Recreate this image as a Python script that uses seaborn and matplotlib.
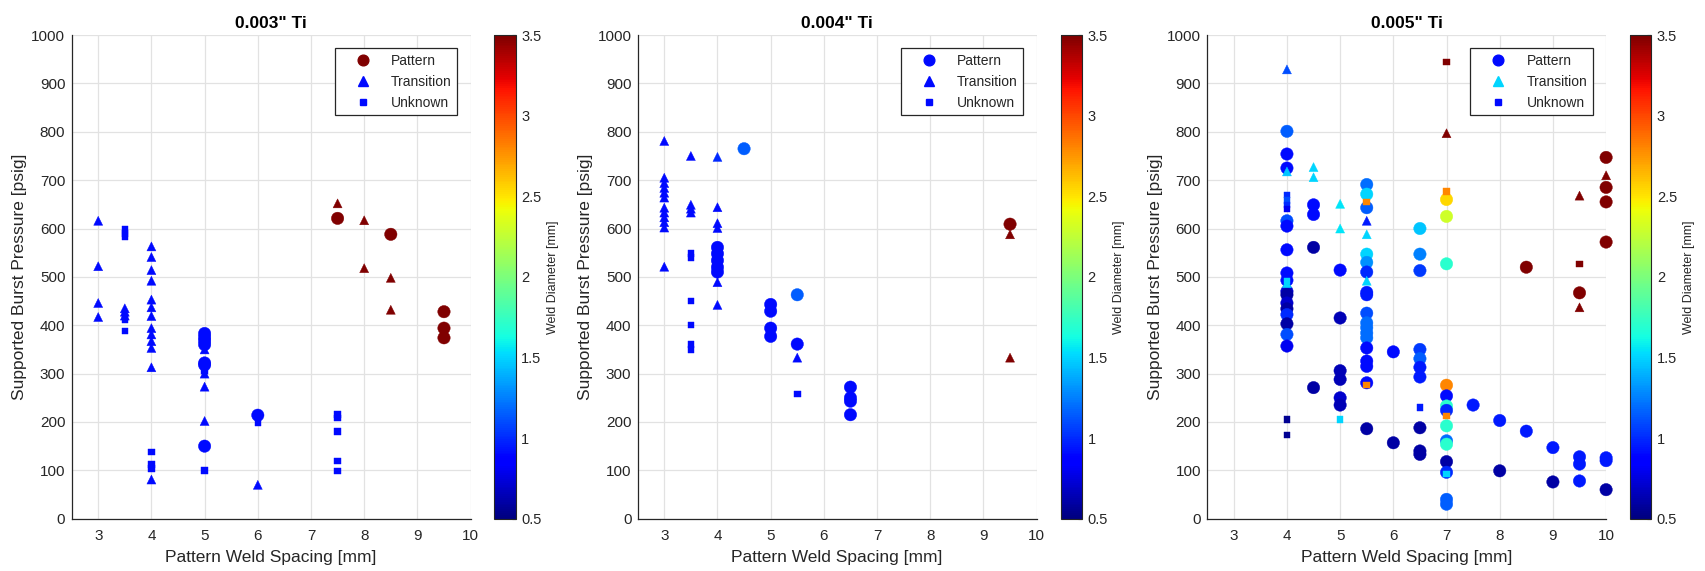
import matplotlib
matplotlib.use("Agg")
import matplotlib.pyplot as plt
import seaborn as sns
import pandas as pd
from matplotlib.lines import Line2D
from matplotlib.colors import Normalize
from matplotlib.cm import ScalarMappable

# ---- data: (spacing mm, burst pressure psig, weld diameter mm) per panel / failure type ----
# 0.003" Ti
t3_pat_x = [5, 5, 5, 5, 5, 5, 5, 6, 7.5, 8.5, 9.5, 9.5, 9.5]
t3_pat_p = [383, 375, 368, 360, 322, 318, 150, 214, 621, 588, 428, 394, 374]
t3_pat_d = [0.9, 0.9, 0.9, 0.9, 0.9, 0.9, 0.9, 0.9, 3.5, 3.5, 3.5, 3.5, 3.5]
t3_tr_x = [3, 3, 3, 3, 3.5, 3.5, 3.5, 4, 4, 4, 4, 4, 4, 4, 4, 4, 4, 4, 4, 4,
           5, 5, 5, 5, 6, 7.5, 8, 8, 8.5, 8.5]
t3_tr_p = [616, 522, 446, 417, 435, 428, 420, 563, 541, 514, 492, 453, 437, 419, 394, 381, 367, 353, 313, 81,
           350, 300, 273, 202, 70, 652, 617, 518, 498, 432]
t3_tr_d = [0.9] * 25 + [3.5] * 5
t3_unk_x = [3.5, 3.5, 3.5, 3.5, 3.5, 4, 4, 4, 5, 5, 6, 7.5, 7.5, 7.5, 7.5, 7.5]
t3_unk_p = [598, 590, 583, 412, 388, 138, 112, 104, 305, 100, 198, 215, 208, 180, 119, 99]
t3_unk_d = [0.9] * 16

# 0.004" Ti
t4_pat_x = [4, 4, 4, 4, 4, 4.5, 5, 5, 5, 5, 5.5, 5.5, 6.5, 6.5, 6.5, 6.5, 9.5]
t4_pat_p = [561, 548, 534, 520, 510, 765, 443, 429, 394, 377, 463, 361, 272, 250, 243, 215, 609]
t4_pat_d = [0.9, 0.9, 0.9, 0.9, 0.9, 1.15, 0.9, 0.9, 0.9, 0.9, 1.15, 0.9, 0.9, 0.9, 0.9, 0.9, 3.5]
t4_tr_x = [3, 3, 3, 3, 3, 3, 3, 3, 3, 3, 3, 3, 3.5, 3.5, 3.5, 3.5,
           4, 4, 4, 4, 4, 4, 5.5, 9.5, 9.5]
t4_tr_p = [781, 705, 694, 684, 674, 664, 643, 633, 623, 613, 602, 521, 750, 649, 641, 633,
           748, 644, 611, 601, 489, 442, 333, 588, 333]
t4_tr_d = [0.9] * 16 + [1.0, 0.9, 0.9, 0.9, 0.9, 0.9, 0.9, 3.5, 3.5]
t4_unk_x = [3.5, 3.5, 3.5, 3.5, 3.5, 3.5, 5.5]
t4_unk_p = [548, 540, 450, 401, 360, 350, 258]
t4_unk_d = [0.9] * 7

# 0.005" Ti
t5_pat_x = [4] * 16 + [4.5] * 4 + [5] * 6 + [5.5] * 18 + [6] * 2 + [6.5] * 10 + [7] * 14 \
           + [7.5] + [8] * 2 + [8.5] * 2 + [9] * 2 + [9.5] * 4 + [10] * 7
t5_pat_p = [801, 754, 725, 616, 605, 556, 508, 493, 470, 463, 446, 434, 422, 403, 381, 357,
            649, 629, 561, 271,
            514, 415, 306, 288, 250, 235,
            691, 671, 643, 547, 530, 510, 468, 463, 425, 405, 395, 384, 374, 353, 326, 315, 281, 186,
            345, 157,
            600, 547, 513, 350, 331, 313, 293, 188, 140, 133,
            660, 625, 527, 276, 254, 233, 224, 192, 161, 154, 118, 96, 40, 30,
            235,
            203, 99,
            520, 181,
            147, 76,
            467, 128, 113, 78,
            747, 685, 655, 572, 126, 120, 60]
t5_pat_d = [1.15, 0.9, 0.9, 1.1, 0.9, 0.9, 0.9, 0.9, 0.7, 0.6, 0.7, 0.6, 1.0, 0.6, 1.1, 0.8,
            0.9, 0.9, 0.6, 0.6,
            0.9, 0.65, 0.65, 0.65, 0.7, 0.65,
            1.2, 1.5, 1.15, 1.5, 1.3, 1.0, 0.95, 0.95, 1.1, 1.2, 1.2, 1.2, 1.2, 0.9, 0.9, 0.9, 0.9, 0.6,
            0.9, 0.6,
            1.45, 1.25, 1.05, 1.05, 1.15, 0.95, 0.95, 0.6, 0.6, 0.6,
            2.55, 2.3, 1.7, 2.8, 0.9, 1.7, 1.0, 1.7, 1.2, 1.7, 0.6, 1.0, 1.15, 1.15,
            0.95,
            0.95, 0.6,
            3.5, 0.95,
            0.95, 0.6,
            3.5, 0.95, 0.95, 0.95,
            3.5, 3.5, 3.5, 3.5, 0.95, 0.95, 0.6]
t5_tr_x = [4, 4, 4, 4.5, 4.5, 5, 5, 5.5, 5.5, 5.5, 7, 9.5, 9.5, 10]
t5_tr_p = [929, 718, 487, 727, 706, 651, 600, 616, 588, 492, 797, 668, 437, 710]
t5_tr_d = [1.1, 1.45, 1.5, 1.5, 1.5, 1.55, 1.55, 0.95, 1.5, 1.5, 3.5, 3.5, 3.5, 3.5]
t5_unk_x = [4, 4, 4, 4, 4, 4, 4, 5, 5.5, 5.5, 6.5, 7, 7, 7, 7, 9.5]
t5_unk_p = [669, 658, 649, 640, 491, 205, 173, 205, 655, 276, 230, 944, 677, 212, 92, 527]
t5_unk_d = [1.0, 1.1, 1.0, 0.8, 1.5, 0.55, 0.55, 1.5, 2.8, 2.8, 0.95, 3.5, 2.8, 2.8, 1.5, 3.5]

titles = ['0.003" Ti', '0.004" Ti', '0.005" Ti']
panels = [
    [(t3_pat_x, t3_pat_p, t3_pat_d), (t3_tr_x, t3_tr_p, t3_tr_d), (t3_unk_x, t3_unk_p, t3_unk_d)],
    [(t4_pat_x, t4_pat_p, t4_pat_d), (t4_tr_x, t4_tr_p, t4_tr_d), (t4_unk_x, t4_unk_p, t4_unk_d)],
    [(t5_pat_x, t5_pat_p, t5_pat_d), (t5_tr_x, t5_tr_p, t5_tr_d), (t5_unk_x, t5_unk_p, t5_unk_d)],
]
# diameter used for the legend swatch of each type (matches first plotted point in original)
legend_d = [[3.5, 0.9, 0.9], [0.9, 0.9, 0.9], [0.9, 1.5, 0.9]]
type_names = ["Pattern", "Transition", "Unknown"]
type_markers = ["o", "^", "s"]
type_sizes = [80, 42, 22]

sns.set_style("white")
plt.rcParams["font.family"] = ["Liberation Sans", "DejaVu Sans"]
txt = "#262626"

norm = Normalize(0.5, 3.5)
cmap = plt.get_cmap("jet")

fig = plt.figure(figsize=(17.05, 5.71), dpi=100)
ax_left = [0.042, 0.374, 0.708]
cb_left = [0.290, 0.622, 0.956]
bottom, height = 0.0916, 0.847

for i in range(3):
    ax = fig.add_axes([ax_left[i], bottom, 0.234, height])
    for (xs, ps, ds), mk, sz in zip(panels[i], type_markers, type_sizes):
        df = pd.DataFrame({"x": xs, "p": ps, "d": ds})
        sns.scatterplot(data=df, x="x", y="p", hue="d", hue_norm=norm, palette=cmap,
                        marker=mk, s=sz, edgecolor="face", linewidth=0.3, legend=False,
                        clip_on=False, ax=ax)
    ax.set_xlim(2.5, 10)
    ax.set_ylim(0, 1000)
    ax.set_xticks(range(3, 11))
    ax.set_yticks(range(0, 1001, 100))
    ax.grid(True, color="#e2e2e2", linewidth=0.9)
    ax.set_axisbelow(True)
    for s in ["top", "right"]:
        ax.spines[s].set_visible(False)
    for s in ["left", "bottom"]:
        ax.spines[s].set_color(txt)
        ax.spines[s].set_linewidth(0.9)
    ax.tick_params(direction="in", length=4, width=0.8, colors=txt, labelsize=11, pad=4.5)
    ax.tick_params(axis="x", pad=7.5)
    ax.set_xlabel("Pattern Weld Spacing [mm]", fontsize=12.5, color=txt, labelpad=5)
    ax.set_ylabel("Supported Burst Pressure [psig]", fontsize=12.5, color=txt, labelpad=3)
    ax.set_title(titles[i], fontsize=12.5, fontweight="bold", color="black", pad=5)

    handles = [Line2D([], [], linestyle="none", marker=m, markersize=ms,
                      markerfacecolor=cmap(norm(d)), markeredgecolor=cmap(norm(d)))
               for m, ms, d in zip(type_markers, [7.7, 7, 4.6], legend_d[i])]
    leg = ax.legend(handles, type_names, loc="upper right", fontsize=10, frameon=True,
                    fancybox=False, edgecolor="#262626", framealpha=1, borderaxespad=0.95,
                    handlelength=3.2, handletextpad=0.45, labelspacing=0.5, borderpad=0.4)
    leg.get_frame().set_linewidth(0.9)
    for t in leg.get_texts():
        t.set_color(txt)

    cax = fig.add_axes([cb_left[i], bottom, 0.0125, height])
    cb = fig.colorbar(ScalarMappable(norm=norm, cmap=cmap), cax=cax)
    cb.set_ticks([0.5, 1, 1.5, 2, 2.5, 3, 3.5])
    cb.set_ticklabels(["0.5", "1", "1.5", "2", "2.5", "3", "3.5"])
    cb.ax.tick_params(direction="in", length=3, width=0.8, colors=txt, labelsize=10.5, pad=4)
    cb.outline.set_edgecolor(txt)
    cb.outline.set_linewidth(0.8)
    cb.set_label("Weld Diameter [mm]", fontsize=9, color=txt, labelpad=4)

fig.savefig("out.png", dpi=100)
